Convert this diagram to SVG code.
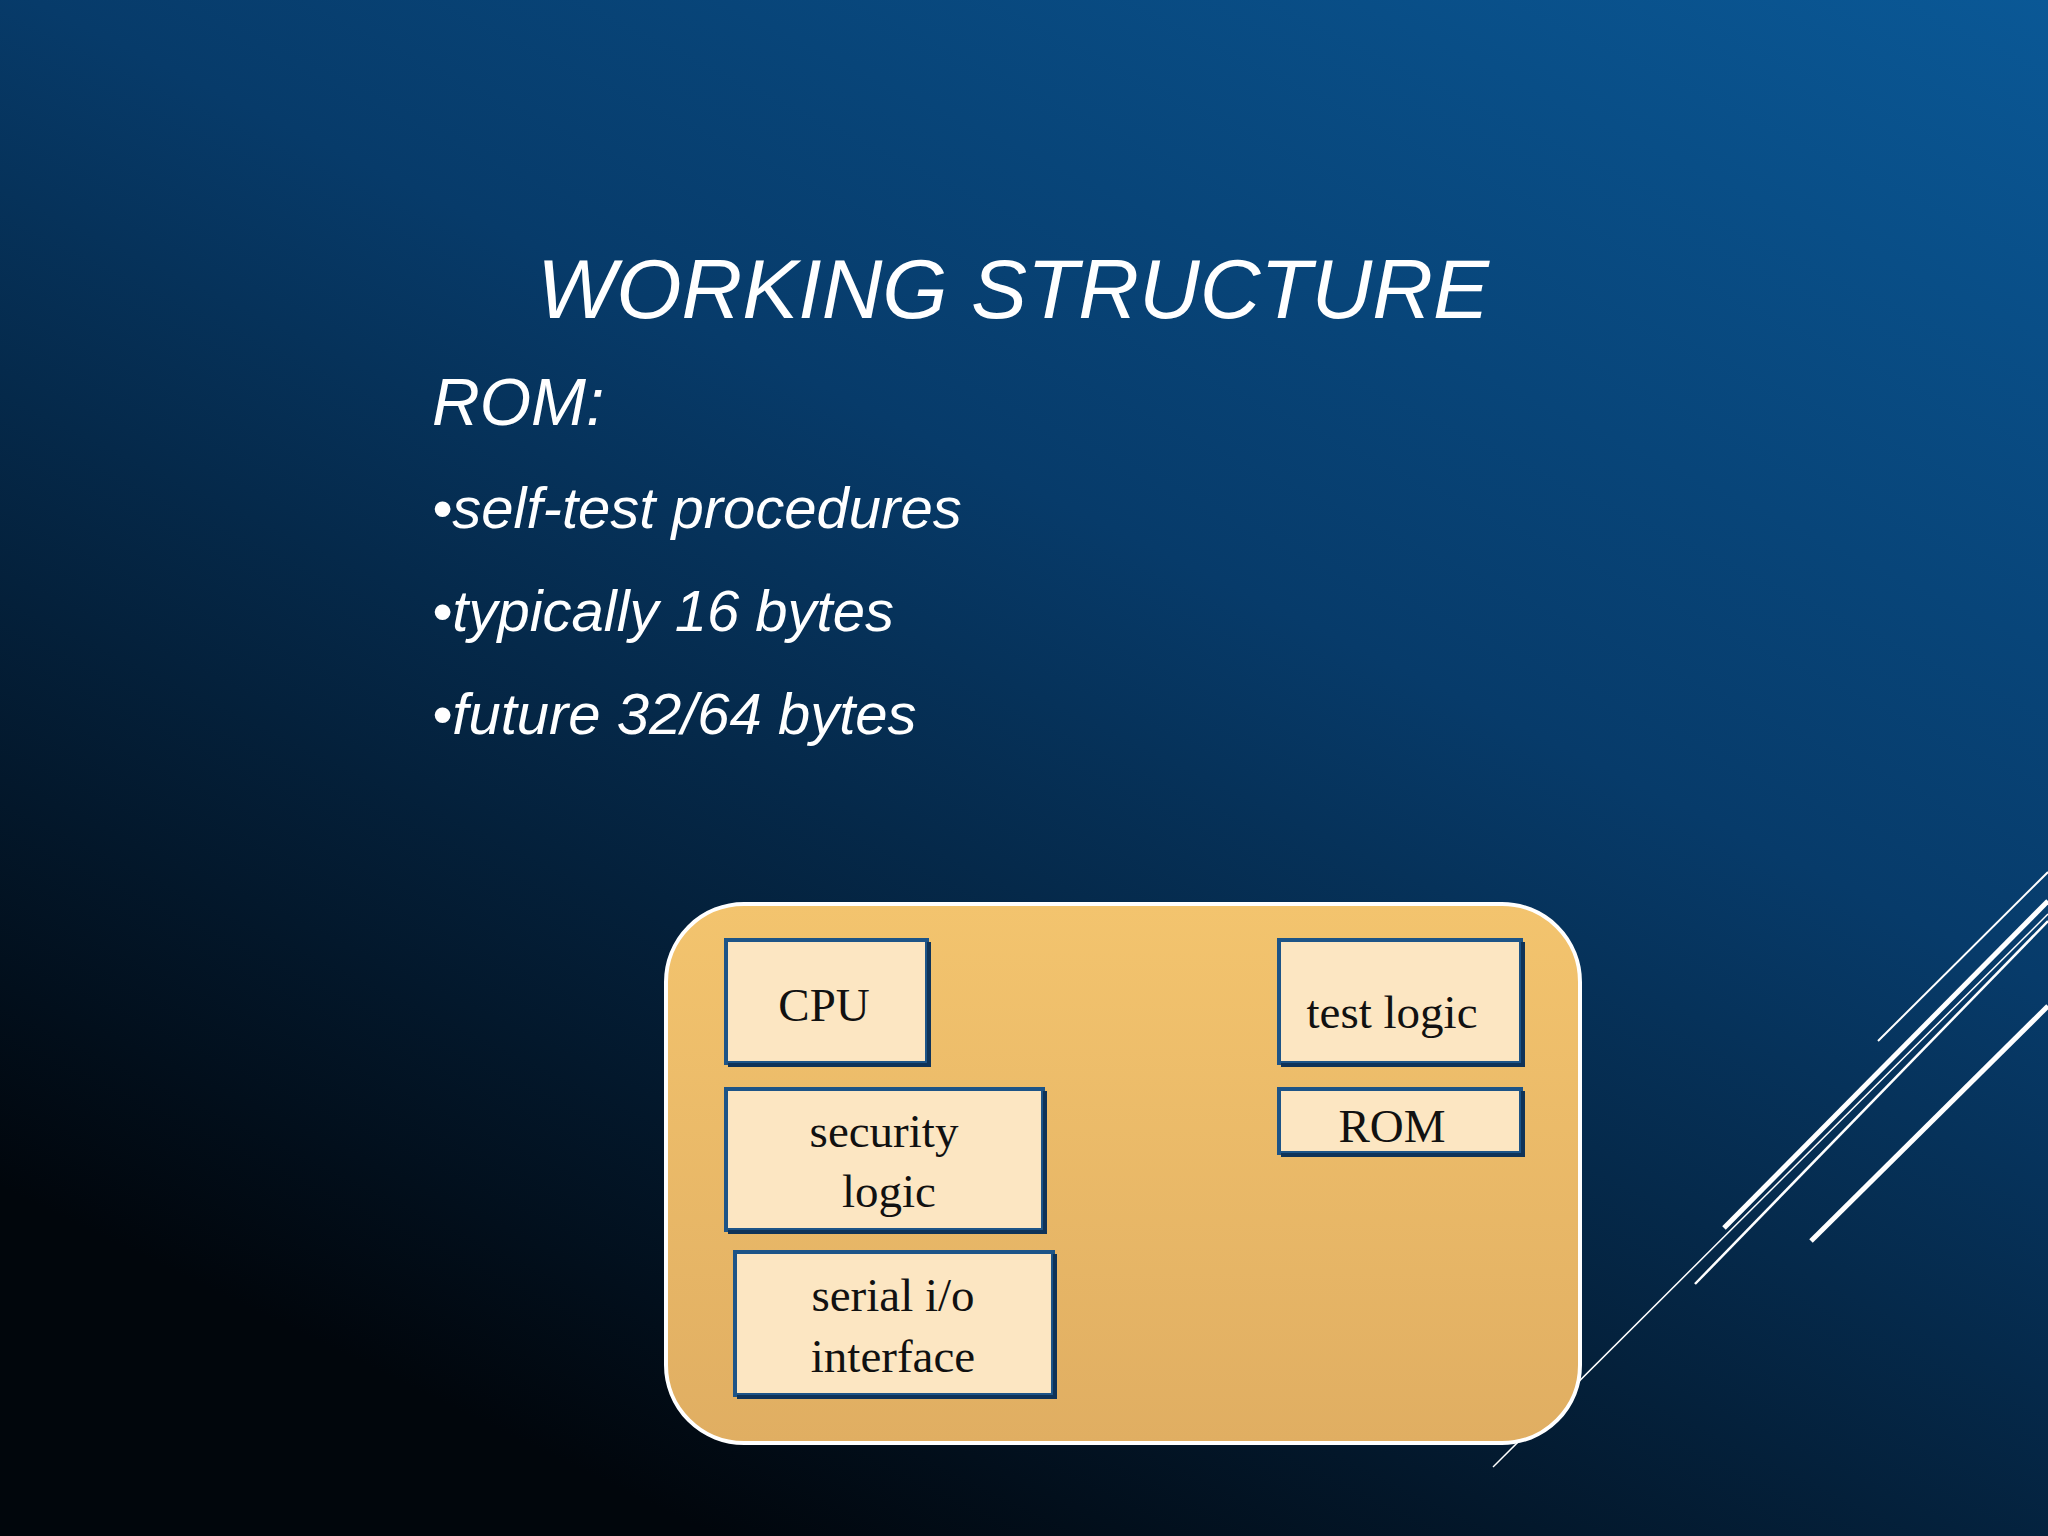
<svg xmlns="http://www.w3.org/2000/svg" width="2048" height="1536" viewBox="0 0 2048 1536">
<defs>
<linearGradient id="bg" x1="1" y1="0" x2="0.35" y2="1">
<stop offset="0" stop-color="#0a5896"/>
<stop offset="0.45" stop-color="#073b6a"/>
<stop offset="1" stop-color="#01060c"/>
</linearGradient>
<linearGradient id="card" x1="0" y1="0" x2="0" y2="1">
<stop offset="0" stop-color="#f3c46e"/>
<stop offset="1" stop-color="#e0ae62"/>
</linearGradient>
<style>
.h{font-family:"Liberation Sans",Arial,sans-serif;font-style:italic;fill:#fff;font-weight:300}
.b{fill:#fce6c2;stroke:#1d5487;stroke-width:4}
.s{fill:none;stroke:#0f3358;stroke-width:4}
.t{font-family:"Liberation Serif","Times New Roman",serif;font-size:47px;fill:#111;text-anchor:middle}
.l{stroke:#fff}
</style>
</defs>
<rect width="2048" height="1536" fill="url(#bg)"/>
<text class="h" x="1013" y="318" font-size="84" text-anchor="middle">WORKING STRUCTURE</text>
<text class="h" x="432" y="425" font-size="66">ROM:</text>
<text class="h" x="432" y="528" font-size="58">•self-test procedures</text>
<text class="h" x="432" y="631" font-size="58">•typically 16 bytes</text>
<text class="h" x="432" y="734" font-size="58">•future 32/64 bytes</text>
<g id="lines">
<line class="l" x1="2048" y1="872" x2="1878" y2="1041" stroke-width="2"/>
<line class="l" x1="2048" y1="901" x2="1724" y2="1228" stroke-width="5"/>
<line class="l" x1="2048" y1="921" x2="1695" y2="1284" stroke-width="2.5"/>
<line class="l" x1="2048" y1="1006" x2="1811" y2="1241" stroke-width="5"/>
<line class="l" x1="2048" y1="914" x2="1493" y2="1467" stroke-width="1.5"/>
</g>
<g id="card">
<rect x="666" y="904" width="914" height="539" rx="78" fill="url(#card)" stroke="#fff" stroke-width="4"/>
</g>
<g id="cpu">
<rect class="b" x="726" y="940" width="201" height="123"/>
<path class="s" d="M929 942V1065H728"/>
<text class="t" x="824" y="1021">CPU</text>
</g>
<g id="security">
<rect class="b" x="726" y="1089" width="317" height="141"/>
<path class="s" d="M1045 1091V1232H728"/>
<text class="t" x="884" y="1147">security</text>
<text class="t" x="889" y="1207">logic</text>
</g>
<g id="serial">
<rect class="b" x="735" y="1252" width="318" height="143"/>
<path class="s" d="M1055 1254V1397H737"/>
<text class="t" x="893" y="1311">serial i/o</text>
<text class="t" x="893" y="1372">interface</text>
</g>
<g id="testlogic">
<rect class="b" x="1279" y="940" width="242" height="123"/>
<path class="s" d="M1523 942V1065H1281"/>
<text class="t" x="1392" y="1028">test logic</text>
</g>
<g id="rom">
<rect class="b" x="1279" y="1089" width="242" height="64"/>
<path class="s" d="M1523 1091V1155H1281"/>
<text class="t" x="1392" y="1142">ROM</text>
</g>
</svg>
